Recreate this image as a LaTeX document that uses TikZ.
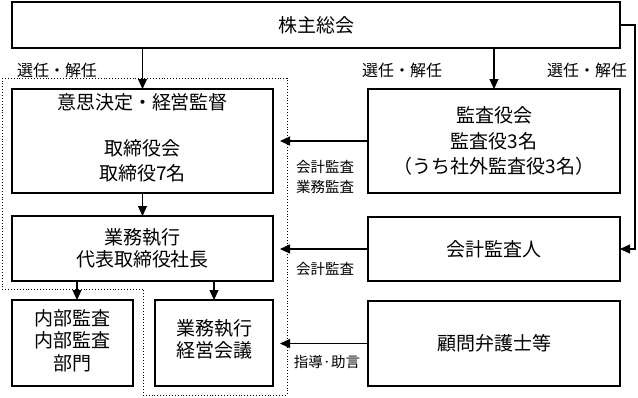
\documentclass[tikz,border=0pt]{standalone}
\usepackage{fontspec}
\setmainfont{Noto Sans CJK JP}
\usetikzlibrary{arrows.meta}
\begin{document}
\begin{tikzpicture}[x=1pt,y=-1pt,
    orgBox/.style={draw=black,line width=1.1pt,inner sep=0pt,outer sep=0pt,font=\fontsize{19}{25}\selectfont,align=center},
    orgText/.style={font=\fontsize{19}{25}\selectfont,align=center,inner sep=0pt},
    orgLabel/.style={font=\fontsize{16}{20}\selectfont,inner sep=0pt},
    sideLabel/.style={font=\fontsize{14.5}{20}\selectfont,align=left,inner sep=0pt},
    orgArrow/.style={-{Triangle[length=10pt,width=9pt]},line width=1.1pt},
    orgDots/.style={dotted,line width=0.9pt},
]
\useasboundingbox (0,0) rectangle (638,397);
% left side
\node[orgBox,minimum width=608pt,minimum height=46pt] (SOUKAI) at (316,25) {株主総会};
\node[orgBox,minimum width=261pt,minimum height=104pt] (KETTEI) at (142.5,141) {};
\node[orgText] (KANTOKU) at (142.5,102) {意思決定・経営監督};
\node[orgText] (TORI) at (142.5,160.5) {取締役会\\取締役7名};
\node[orgBox,minimum width=261pt,minimum height=65pt,font=\fontsize{19}{22}\selectfont] (GYOMU) at (142.5,248.5) {業務執行\\代表取締役社長};
\node[orgBox,minimum width=121pt,minimum height=86pt] (NAIBU) at (72.5,343) {};
\node[orgText,font=\fontsize{19}{22.5}\selectfont] (NAIBUt) at (72.5,340.5) {内部監査\\内部監査\\部門};
\node[orgBox,minimum width=118pt,minimum height=86pt] (KEIEI) at (214,343) {};
\node[orgText,font=\fontsize{19}{22}\selectfont] (KEIEIt) at (214,339) {業務執行\\経営会議};
% right side
\node[orgBox,minimum width=252pt,minimum height=104pt,font=\fontsize{19}{25.5}\selectfont] (KANSA) at (494,141) {監査役会\\監査役3名\\（うち社外監査役3名）};
\node[orgBox,minimum width=252pt,minimum height=64pt] (KAIKEI) at (494,249) {会計監査人};
\node[orgBox,minimum width=252pt,minimum height=85pt] (KOMON) at (494,343.5) {顧問弁護士等};
% dotted frame
\draw[orgDots] (2,78) -- (287,78) -- (287,395) -- (143,395) -- (143,289) -- (2,289) -- cycle;
\coordinate (FRAME) at (280,0);
\coordinate (RTURN) at (635,0);
\coordinate (NAIBUin) at (77,0);
% arrows
\draw[orgArrow] (SOUKAI.south -| KETTEI.north) -- (KETTEI.north);
\draw[orgArrow] (SOUKAI.south -| KANSA.north) -- (KANSA.north);
\draw[orgArrow] (SOUKAI.east) -- (SOUKAI.east -| RTURN) -- (RTURN |- KAIKEI.east) -- (KAIKEI.east);
\draw[orgArrow] (KETTEI.south) -- (GYOMU.north);
\draw[orgArrow] (GYOMU.south -| NAIBUin) -- (NAIBU.north -| NAIBUin);
\draw[orgArrow] (GYOMU.south -| KEIEI.north) -- (KEIEI.north);
\draw[orgArrow] (KANSA.west) -- (KANSA.west -| FRAME);
\draw[orgArrow] (KAIKEI.west) -- (KAIKEI.west -| FRAME);
\draw[orgArrow] (KOMON.west) -- (KOMON.west -| FRAME);
% labels
\node[orgLabel] (SENNIN1) at (57,70) {選任・解任};
\node[orgLabel] (SENNIN2) at (402,70) {選任・解任};
\node[orgLabel] (SENNIN3) at (587,70) {選任・解任};
\node[sideLabel] (KANSAlbl) at (325,177) {会計監査\\業務監査};
\node[sideLabel] (KAIKEIlbl) at (325,269) {会計監査};
\node[sideLabel] (KOMONlbl) at (327,362) {指導·助言};
\end{tikzpicture}
\end{document}
